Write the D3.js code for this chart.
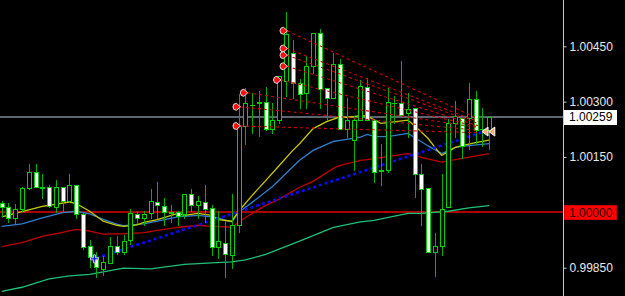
<!DOCTYPE html>
<html>
<head>
<meta charset="utf-8">
<script src="https://d3js.org/d3.v7.min.js"></script>
<style>
  body { margin: 0; background: #000; }
  svg { display: block; }
</style>
</head>
<body>
<div id="chart"></div>
<script>
// Chart data
//=================================
var candleOpen = [1.00024,1.00014,0.99986,1.00008,1.00065,1.00108,1.00068,1.00070,1.00014,1.00068,
  1.00032,1.00073,0.99995,0.99908,0.99878,0.99846,0.99862,0.99908,0.99892,0.99924,
  0.99995,0.99984,0.99997,1.00027,1.00016,1.00000,1.00000,0.99995,1.00051,1.00019,
  1.00027,1.00011,0.99905,0.99916,0.99884,0.99965,1.00235,1.00292,1.00295,1.00300,
  1.00227,1.00249,1.00357,1.00432,1.00351,1.00324,1.00397,1.00486,1.00338,1.00311,
  1.00403,1.00227,1.00195,1.00249,1.00341,1.00251,1.00114,1.00116,1.00297,1.00295,
  1.00268,1.00284,1.00105,1.00065,0.99892,0.99908,1.00014,1.00243,1.00257,1.00257,
  1.00308,1.00227,1.00222];
var candleHigh = [1.00030,1.00024,1.00022,1.00068,1.00132,1.00132,1.00105,1.00073,1.00089,1.00068,
  1.00105,1.00073,0.99997,0.99924,0.99892,0.99881,0.99932,0.99935,0.99938,1.00008,
  1.00000,1.00005,1.00062,1.00081,1.00038,1.00019,1.00005,1.00051,1.00062,1.00043,
  1.00073,1.00019,1.00005,0.99976,1.00051,1.00322,1.00338,1.00324,1.00330,1.00341,
  1.00295,1.00370,1.00543,1.00468,1.00362,1.00424,1.00486,1.00497,1.00338,1.00432,
  1.00416,1.00311,1.00262,1.00359,1.00365,1.00251,1.00186,1.00338,1.00316,1.00411,
  1.00324,1.00284,1.00132,1.00065,0.99943,1.00105,1.00254,1.00303,1.00257,1.00351,
  1.00330,1.00284,1.00259];
var candleLow = [0.99989,0.99973,0.99970,1.00005,1.00062,1.00068,1.00038,1.00014,1.00000,1.00000,
  1.00027,0.99984,0.99900,0.99851,0.99824,0.99830,0.99862,0.99886,0.99886,0.99914,
  0.99970,0.99965,0.99986,0.99986,0.99965,0.99973,0.99965,0.99986,1.00005,0.99986,
  0.99973,0.99884,0.99876,0.99824,0.99849,0.99946,1.00186,1.00216,1.00208,1.00222,
  1.00214,1.00241,1.00316,1.00311,1.00284,1.00284,1.00378,1.00284,1.00249,1.00311,
  1.00227,1.00203,1.00114,1.00249,1.00249,1.00081,1.00073,1.00108,1.00241,1.00265,
  1.00203,1.00041,0.99965,0.99892,0.99827,0.99884,1.00014,1.00203,1.00146,1.00173,
  1.00186,1.00181,1.00173];
var candleClose = [1.00014,0.99984,1.00008,1.00065,1.00108,1.00068,1.00066,1.00016,1.00068,1.00032,
  1.00073,0.99995,0.99905,0.99878,0.99851,0.99865,0.99908,0.99892,0.99922,0.99997,
  0.99984,0.99995,1.00030,1.00019,1.00000,0.99999,0.99989,1.00051,1.00019,1.00030,
  1.00008,0.99905,0.99922,0.99886,0.99965,1.00235,1.00295,1.00291,1.00300,1.00227,
  1.00249,1.00370,1.00484,1.00351,1.00322,1.00397,1.00486,1.00335,1.00311,1.00403,
  1.00227,1.00249,1.00249,1.00343,1.00251,1.00108,1.00112,1.00300,1.00296,1.00265,
  1.00281,1.00105,1.00062,0.99892,0.99908,1.00008,1.00243,1.00262,1.00181,1.00308,
  1.00222,1.00226,1.00259];

// moving averages: [bar index, price]
var maYellow = [[0,0.99988],[4,1.00007],[6,1.00016],[10,1.00028],[11,1.00024],[13,1.00003],[15,0.99976],
  [17,0.99965],[18,0.99962],[20,0.99966],[21,0.99973],[23,0.99980],[26,0.99997],[27,0.99992],[29,0.99997],
  [31,0.99992],[32,0.99980],[34,0.99976],[35,1.00003],[37,1.00046],[39,1.00086],[41,1.00127],[43,1.00168],
  [44,1.00186],[46,1.00227],[48,1.00246],[50,1.00259],[51,1.00257],[53,1.00262],[54,1.00261],[56,1.00241],
  [57,1.00243],[60,1.00250],[61,1.00235],[63,1.00200],[64,1.00176],[65,1.00154],[67,1.00176],[68,1.00181],
  [70,1.00189],[72,1.00196]];
var maBlue = [[0,0.99962],[3,0.99969],[6,0.99985],[9,0.99999],[11,1.00003],[13,0.99996],[15,0.99981],
  [17,0.99968],[18,0.99964],[21,0.99969],[23,0.99976],[26,0.99988],[29,0.99992],[31,0.99988],[32,0.99984],
  [34,0.99974],[35,1.00000],[37,1.00027],[40,1.00070],[44,1.00141],[46,1.00168],[49,1.00192],[50,1.00195],
  [53,1.00204],[54,1.00211],[55,1.00206],[57,1.00205],[60,1.00214],[61,1.00203],[63,1.00180],[65,1.00159],
  [67,1.00176],[69,1.00181],[72,1.00186]];
var maRed = [[0,0.99907],[3,0.99918],[6,0.99935],[9,0.99946],[11,0.99954],[13,0.99949],[15,0.99941],
  [18,0.99942],[21,0.99945],[23,0.99951],[26,0.99959],[29,0.99965],[31,0.99962],[34,0.99960],[36,0.99986],
  [39,1.00019],[41,1.00036],[44,1.00068],[46,1.00084],[49,1.00119],[50,1.00127],[53,1.00141],[54,1.00143],
  [57,1.00151],[60,1.00159],[62,1.00149],[65,1.00136],[68,1.00146],[72,1.00159]];
var maGreen = [[0,0.99786],[3,0.99797],[7,0.99820],[10,0.99828],[13,0.99832],[18,0.99849],[22,0.99847],
  [27,0.99859],[31,0.99863],[34,0.99866],[36,0.99871],[39,0.99886],[44,0.99922],[49,0.99959],[53,0.99974],
  [55,0.99978],[60,0.99997],[62,0.99997],[66,1.00003],[69,1.00012],[72,1.00018]];

// blue dotted trend line and marker
var trendLine = [[14,0.99876],[71,1.00217]];
var crossMark = [13.7,0.99874];

// red dashed fan lines: start bar, start price, end bar, end price
var fanStartIdx = [41.55,41.55,41.55,41.55,40.6,35.7,34.6,34.6];
var fanStartPrice = [1.00492,1.00444,1.00426,1.00396,1.00359,1.00324,1.00286,1.00234];
var fanEndIdx = 70.35;
var fanEndPrice = [1.00254,1.00246,1.00241,1.00235,1.00232,1.00230,1.00222,1.00216];
var endMarkIdx = [71.4,72.4];
var endMarkPrice = 1.00219;

var priceTicks = [0.99850, 1.00150, 1.00300, 1.00450];
var currentPrice = 1.00259;
var levelPrice = 1.00000;

// Set up our chart
//=================================
var svgWidth = 625;
var svgHeight = 296;
var axisX = 563.5;

var svg = d3.select("#chart")
  .append("svg")
  .attr("width", svgWidth)
  .attr("height", svgHeight)
  .style("background", "#000");

var xScale = d3.scaleLinear()
  .domain([0, 72])
  .range([1.7, 489.1]);

var yScale = d3.scaleLinear()
  .domain([0.99850, 1.00450])
  .range([267.7, 46.3]);

var px = function(v) { return Math.round(v) + 0.5; };

// horizontal level lines
svg.append("line")
  .attr("x1", 0).attr("x2", axisX)
  .attr("y1", Math.round(yScale(levelPrice))).attr("y2", Math.round(yScale(levelPrice)))
  .attr("stroke", "#a80000")
  .attr("stroke-width", 2);

svg.append("line")
  .attr("x1", 0).attr("x2", axisX)
  .attr("y1", Math.round(yScale(currentPrice))).attr("y2", Math.round(yScale(currentPrice)))
  .attr("stroke", "#7a8896")
  .attr("stroke-width", 1.5);

// moving averages
var maLine = d3.line()
  .x(d => xScale(d[0]))
  .y(d => yScale(d[1]));

var maSets = [
  {data: maGreen, color: "#1fbf78"},
  {data: maRed, color: "#c00000"},
  {data: maBlue, color: "#2f7fcf"},
  {data: maYellow, color: "#c8c800"}
];

maSets.forEach(function(m) {
  svg.append("path")
    .datum(m.data)
    .attr("d", maLine)
    .attr("fill", "none")
    .attr("stroke", m.color)
    .attr("stroke-width", 1.3);
});

// blue dotted trend line
svg.append("path")
  .datum(trendLine)
  .attr("d", maLine)
  .attr("fill", "none")
  .attr("stroke", "#0a0aff")
  .attr("stroke-width", 2.6)
  .attr("stroke-dasharray", "3,3");

// candles
var bars = d3.range(candleOpen.length);
var candleGroup = svg.append("g").attr("shape-rendering", "crispEdges");

candleGroup.selectAll(".wick")
  .data(bars)
  .enter()
  .append("line")
  .attr("x1", i => px(xScale(i)))
  .attr("x2", i => px(xScale(i)))
  .attr("y1", i => Math.round(yScale(candleHigh[i])))
  .attr("y2", i => Math.round(yScale(candleLow[i])) + 1)
  .attr("stroke", "#00b000")
  .attr("stroke-width", 1);

candleGroup.selectAll(".body")
  .data(bars)
  .enter()
  .append("rect")
  .attr("x", i => Math.round(xScale(i)) - 2 + 0.5)
  .attr("y", i => px(yScale(Math.max(candleOpen[i], candleClose[i]))))
  .attr("width", 4)
  .attr("height", function(i) {
    var top = Math.round(yScale(Math.max(candleOpen[i], candleClose[i])));
    var bot = Math.round(yScale(Math.min(candleOpen[i], candleClose[i])));
    return Math.max(0.01, bot - top);
  })
  .attr("fill", i => candleClose[i] > candleOpen[i] ? "#000" : "#fff")
  .attr("stroke", "#00d200")
  .attr("stroke-width", 1);

// red dashed fan lines
var fanGroup = svg.append("g");
fanStartIdx.forEach(function(s, k) {
  fanGroup.append("line")
    .attr("x1", xScale(s) + 4)
    .attr("y1", yScale(fanStartPrice[k]))
    .attr("x2", xScale(fanEndIdx))
    .attr("y2", yScale(fanEndPrice[k]))
    .attr("stroke", "#d00000")
    .attr("stroke-width", 1.1)
    .attr("stroke-dasharray", "3,3");
});

// rounded arrow markers at fan starts
fanStartIdx.forEach(function(s, k) {
  fanGroup.append("path")
    .attr("transform", `translate(${xScale(s)},${yScale(fanStartPrice[k])})`)
    .attr("d", "M0.5,-3.5 A3.5,3.5 0 1 0 0.5,3.5 L4.5,0 Z")
    .attr("fill", "#ff1010")
    .attr("stroke", "#e0e0e0")
    .attr("stroke-width", 1);
});

// end triangles
endMarkIdx.forEach(function(s) {
  svg.append("path")
    .attr("transform", `translate(${xScale(s)},${yScale(endMarkPrice)})`)
    .attr("d", "M-3,0 L3,-4.5 L3,4.5 Z")
    .attr("fill", "#f2b070")
    .attr("stroke", "#fff")
    .attr("stroke-width", 1);
});

// blue cross marker
svg.append("path")
  .attr("transform", `translate(${xScale(crossMark[0])},${yScale(crossMark[1])})`)
  .attr("d", "M-1,-4 h2 v3 h3 v2 h-3 v3 h-2 v-3 h-3 v-2 h3 Z")
  .attr("fill", "#1010ff")
  .attr("stroke", "#c8c8d8")
  .attr("stroke-width", 1);

// right price axis
svg.append("line")
  .attr("x1", axisX).attr("x2", axisX)
  .attr("y1", 0).attr("y2", svgHeight)
  .attr("stroke", "#c8c8c8")
  .attr("stroke-width", 1);

var rightAxis = d3.axisRight(yScale)
  .tickValues(priceTicks)
  .tickSize(3)
  .tickPadding(3)
  .tickFormat(d3.format(".5f"));

var axisGroup = svg.append("g")
  .attr("transform", `translate(${axisX},0)`)
  .call(rightAxis);

axisGroup.select(".domain").remove();
axisGroup.selectAll("line").attr("stroke", "#c8c8c8");
axisGroup.selectAll("text")
  .attr("fill", "#e8e8e8")
  .style("font-family", "'Liberation Sans', Arial, sans-serif")
  .style("font-size", "12px");

// price labels
var labels = [
  {price: currentPrice, fill: "#ffffff", border: "#ffffff", text: "#000000"},
  {price: levelPrice, fill: "#ff0000", border: "#d00000", text: "#300000"}
];

labels.forEach(function(l) {
  var cy = yScale(l.price);
  svg.append("rect")
    .attr("x", 564.5)
    .attr("y", Math.round(cy) - 6.5)
    .attr("width", 52)
    .attr("height", 14)
    .attr("fill", l.fill)
    .attr("stroke", l.border)
    .attr("stroke-width", 1);
  svg.append("text")
    .attr("x", 569)
    .attr("y", cy)
    .attr("dy", "0.36em")
    .attr("fill", l.text)
    .style("font-family", "'Liberation Sans', Arial, sans-serif")
    .style("font-size", "12px")
    .text(d3.format(".5f")(l.price));
});
</script>
</body>
</html>
